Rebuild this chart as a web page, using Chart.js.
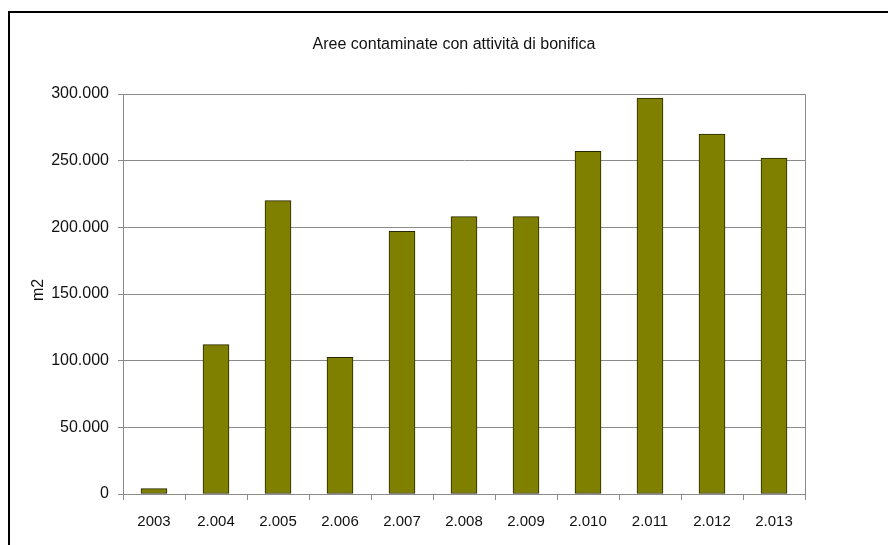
<!DOCTYPE html>
<html>
<head>
<meta charset="utf-8">
<script src="https://cdn.jsdelivr.net/npm/chart.js@4/dist/chart.umd.min.js"></script>
<style>
  html, body { margin: 0; padding: 0; background: #fff; }
  #wrap { width: 888px; height: 545px; }
</style>
</head>
<body>
<div id="wrap"><canvas id="c" width="888" height="545"></canvas></div>
<script>
// Anni di riferimento (etichette dell'asse X)
const years = ['2003', '2.004', '2.005', '2.006', '2.007', '2.008', '2.009', '2.010', '2.011', '2.012', '2.013'];
// Superficie delle aree contaminate con attività di bonifica (m2)
const areaM2 = [4000, 112000, 220000, 102500, 197000, 208000, 208000, 257000, 297000, 270000, 252000];
// Etichette dell'asse Y
const yTickValues = [0, 50000, 100000, 150000, 200000, 250000, 300000];
const chartTitle = 'Aree contaminate con attività di bonifica';
const yAxisTitle = 'm2';

const FONT = "'Liberation Sans', Arial, sans-serif";
const GRID = '#8a8a8a';

function fmtThousands(v) {
  return String(Math.round(v)).replace(/\B(?=(\d{3})+(?!\d))/g, '.');
}

// Cornice esterna, bordo dell'area del grafico, titolo e titolo dell'asse Y
const decorations = {
  id: 'decorations',
  afterDraw(chart) {
    const ctx = chart.ctx;
    const a = chart.chartArea;
    ctx.save();
    // bordo area del grafico (alto e destra)
    ctx.strokeStyle = GRID;
    ctx.lineWidth = 1;
    ctx.beginPath();
    ctx.moveTo(Math.round(a.left) + 0.5, Math.round(a.top) + 0.5);
    ctx.lineTo(Math.round(a.right) + 0.5, Math.round(a.top) + 0.5);
    ctx.lineTo(Math.round(a.right) + 0.5, Math.round(a.bottom) + 0.5);
    ctx.stroke();
    // cornice esterna
    ctx.strokeStyle = '#000';
    ctx.lineWidth = 2;
    ctx.beginPath();
    ctx.moveTo(9, 545);
    ctx.lineTo(9, 12);
    ctx.lineTo(888, 12);
    ctx.stroke();
    // titolo
    ctx.fillStyle = '#111';
    ctx.font = '16px ' + FONT;
    ctx.textAlign = 'center';
    ctx.textBaseline = 'middle';
    ctx.fillText(chartTitle, 454, 45);
    // titolo asse Y
    ctx.translate(39, 290);
    ctx.rotate(-Math.PI / 2);
    ctx.font = '16px ' + FONT;
    ctx.fillText(yAxisTitle, 0, 0);
    ctx.restore();
  }
};

new Chart(document.getElementById('c'), {
  type: 'bar',
  data: {
    labels: years,
    datasets: [{
      data: areaM2,
      backgroundColor: '#808000',
      borderColor: '#262600',
      borderWidth: { top: 1, right: 1, bottom: 1, left: 1 },
      borderSkipped: false,
      barThickness: 26
    }]
  },
  options: {
    responsive: false,
    animation: false,
    devicePixelRatio: 1,
    layout: { padding: { left: 0, top: 94, right: 83, bottom: 0 } },
    plugins: {
      legend: { display: false },
      title: { display: false },
      tooltip: { enabled: false }
    },
    scales: {
      x: {
        grid: {
          display: true,
          offset: true,
          drawOnChartArea: false,
          drawTicks: true,
          tickLength: 6,
          color: GRID
        },
        border: { display: true, color: GRID, width: 1 },
        ticks: {
          color: '#111',
          font: { family: FONT, size: 15 },
          padding: 13,
          maxRotation: 0,
          autoSkip: false
        },
        afterFit(scale) { scale.height = 51; }
      },
      y: {
        min: 0,
        max: 300000,
        afterBuildTicks(scale) {
          scale.ticks = yTickValues.map(v => ({ value: v }));
        },
        grid: {
          color: GRID,
          lineWidth: 1,
          tickLength: 5,
          drawTicks: true
        },
        border: { display: true, color: GRID, width: 1 },
        ticks: {
          color: '#111',
          font: { family: FONT, size: 16 },
          padding: 9,
          callback: v => fmtThousands(v)
        },
        afterFit(scale) { scale.width = 123; }
      }
    }
  },
  plugins: [decorations]
});
</script>
</body>
</html>
